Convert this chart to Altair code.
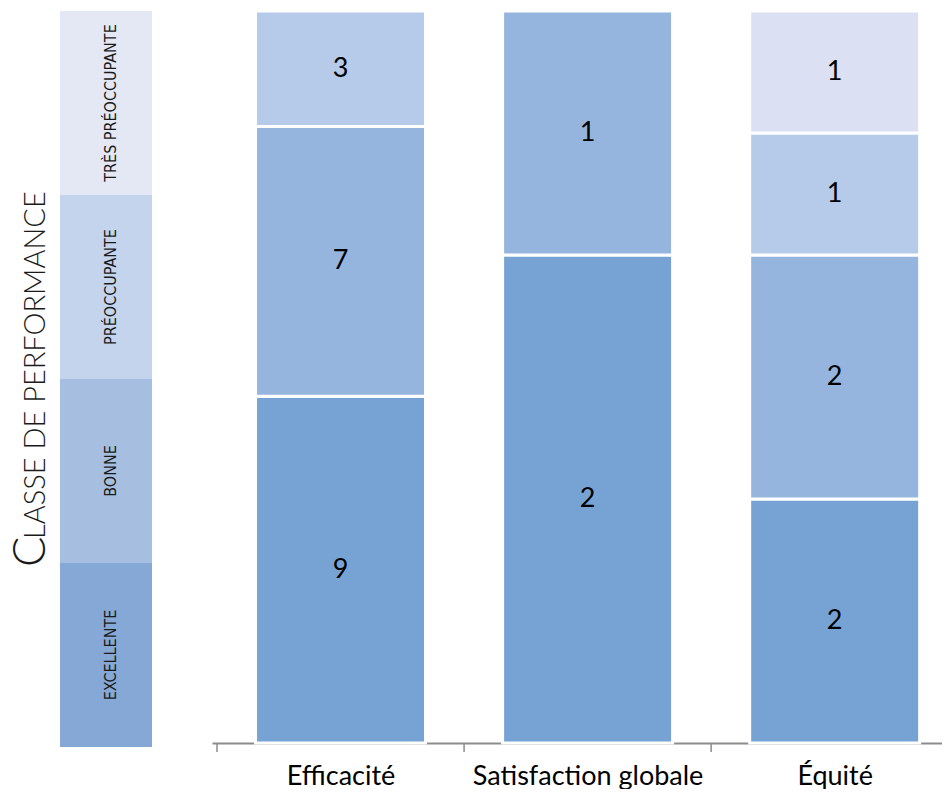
import json
import altair as alt
import pandas as pd

# ---- data ----
categories = ["Efficacité", "Satisfaction globale", "Équité"]
classes = ["Excellente", "Bonne", "Préoccupante", "Très préoccupante"]
class_labels = ["EXCELLENTE", "BONNE", "PRÉOCCUPANTE", "TRÈS PRÉOCCUPANTE"]
efficacite = [9, 7, 3, 0]
satisfaction = [2, 1, 0, 0]
equite = [2, 2, 1, 1]
bar_colors = ["#77a3d4", "#96b5de", "#b6cbea", "#dbe1f3"]
legend_colors = ["#85a8d6", "#a6bfe0", "#c4d4ec", "#e4e8f5"]
title_first = "C"
title_rest = "LASSE DE PERFORMANCE"

rows = []
for k, (cat, vals) in enumerate(zip(categories, [efficacite, satisfaction, equite])):
    for i, (cl, v) in enumerate(zip(classes, vals)):
        if v > 0:
            rows.append({"cat": cat, "pos": k + 0.5, "classe": cl, "rang": i, "n": v})
df = pd.DataFrame(rows)
legend_df = pd.DataFrame({"classe_leg": classes, "label": class_labels})
tick_df = pd.DataFrame({"pos": list(range(len(categories)))})

NARROW = "Liberation Sans Narrow, DejaVu Sans Condensed, sans-serif"
LABEL_FONT = "Lato, Open Sans, sans-serif"

# ---- left panel: class legend column + title ----
ycls = alt.Y("classe_leg:N", sort=classes[::-1],
             scale=alt.Scale(paddingInner=0, paddingOuter=0), axis=None)
leg_rect = alt.Chart(legend_df).mark_rect().encode(
    y=ycls, x=alt.value(52), x2=alt.value(144),
    color=alt.Color("classe_leg:N", scale=alt.Scale(domain=classes, range=legend_colors), legend=None),
)
leg_text = alt.Chart(legend_df).mark_text(
    angle=270, align="center", baseline="middle", font=NARROW, fontSize=16, color="#1a1a1a"
).encode(y=ycls, x=alt.value(103), text="label:N")

title_c = alt.Chart(pd.DataFrame({"t": [title_first]})).mark_text(
    angle=270, align="left", baseline="alphabetic", font="Lato", fontWeight=300,
    fontSize=45, color="#1a1a1a"
).encode(x=alt.value(37), y=alt.value(556), text="t:N")
title_r = alt.Chart(pd.DataFrame({"t": [title_rest]})).mark_text(
    angle=270, align="left", baseline="alphabetic", font="Lato", fontWeight=300,
    fontSize=29, color="#1a1a1a"
).encode(x=alt.value(37), y=alt.value(528), text="t:N")

left = alt.layer(leg_rect, leg_text, title_c, title_r).properties(width=144, height=736)

# ---- right panel: 100% stacked bars ----
STEP = 250.5
WIDTH = 730
label_expr = json.dumps(categories) + "[floor(datum.value)]"
xpos = alt.X(
    "pos:Q",
    scale=alt.Scale(domain=[0, WIDTH / STEP], nice=False, zero=False),
    axis=alt.Axis(title=None, values=[k + 0.5 for k in range(len(categories))], labelExpr=label_expr,
                  labelAngle=0, grid=False, ticks=False, domain=True, domainColor="#8c8c8c",
                  domainWidth=2, labelFont=LABEL_FONT, labelFontSize=27, labelColor="#000000",
                  labelPadding=20, labelLimit=400, labelFlush=False, labelOverlap=False),
)
base = alt.Chart(df).transform_stack(
    stack="n", groupby=["cat"], sort=[alt.SortField("rang", order="ascending")],
    as_=["y0", "y1"], offset="normalize",
).transform_calculate(mid="(datum.y0 + datum.y1) / 2")

bars = base.mark_bar(width=170, stroke="white", strokeWidth=3).encode(
    x=xpos,
    y=alt.Y("y0:Q", scale=alt.Scale(domain=[0, 1], nice=False), axis=None),
    y2="y1:Q",
    color=alt.Color("classe:N", scale=alt.Scale(domain=classes, range=bar_colors), legend=None),
)
nums = base.mark_text(font=LABEL_FONT, fontSize=27, color="#000000", baseline="middle").encode(
    x="pos:Q", y="mid:Q", text="n:Q"
)
ticks = alt.Chart(tick_df).mark_rule(color="#8c8c8c", strokeWidth=1.5).encode(
    x="pos:Q", y=alt.value(732), y2=alt.value(741)
)

right = alt.layer(bars, nums, ticks).properties(width=WIDTH, height=732)

chart = alt.hconcat(left, right, spacing=60).resolve_scale(color="independent").properties(
    padding={"left": 0, "top": 1, "right": 0, "bottom": 0}
).configure_view(stroke=None).configure_concat(spacing=60)

chart.save("out.html", embed_options={"renderer": "svg", "actions": False})
